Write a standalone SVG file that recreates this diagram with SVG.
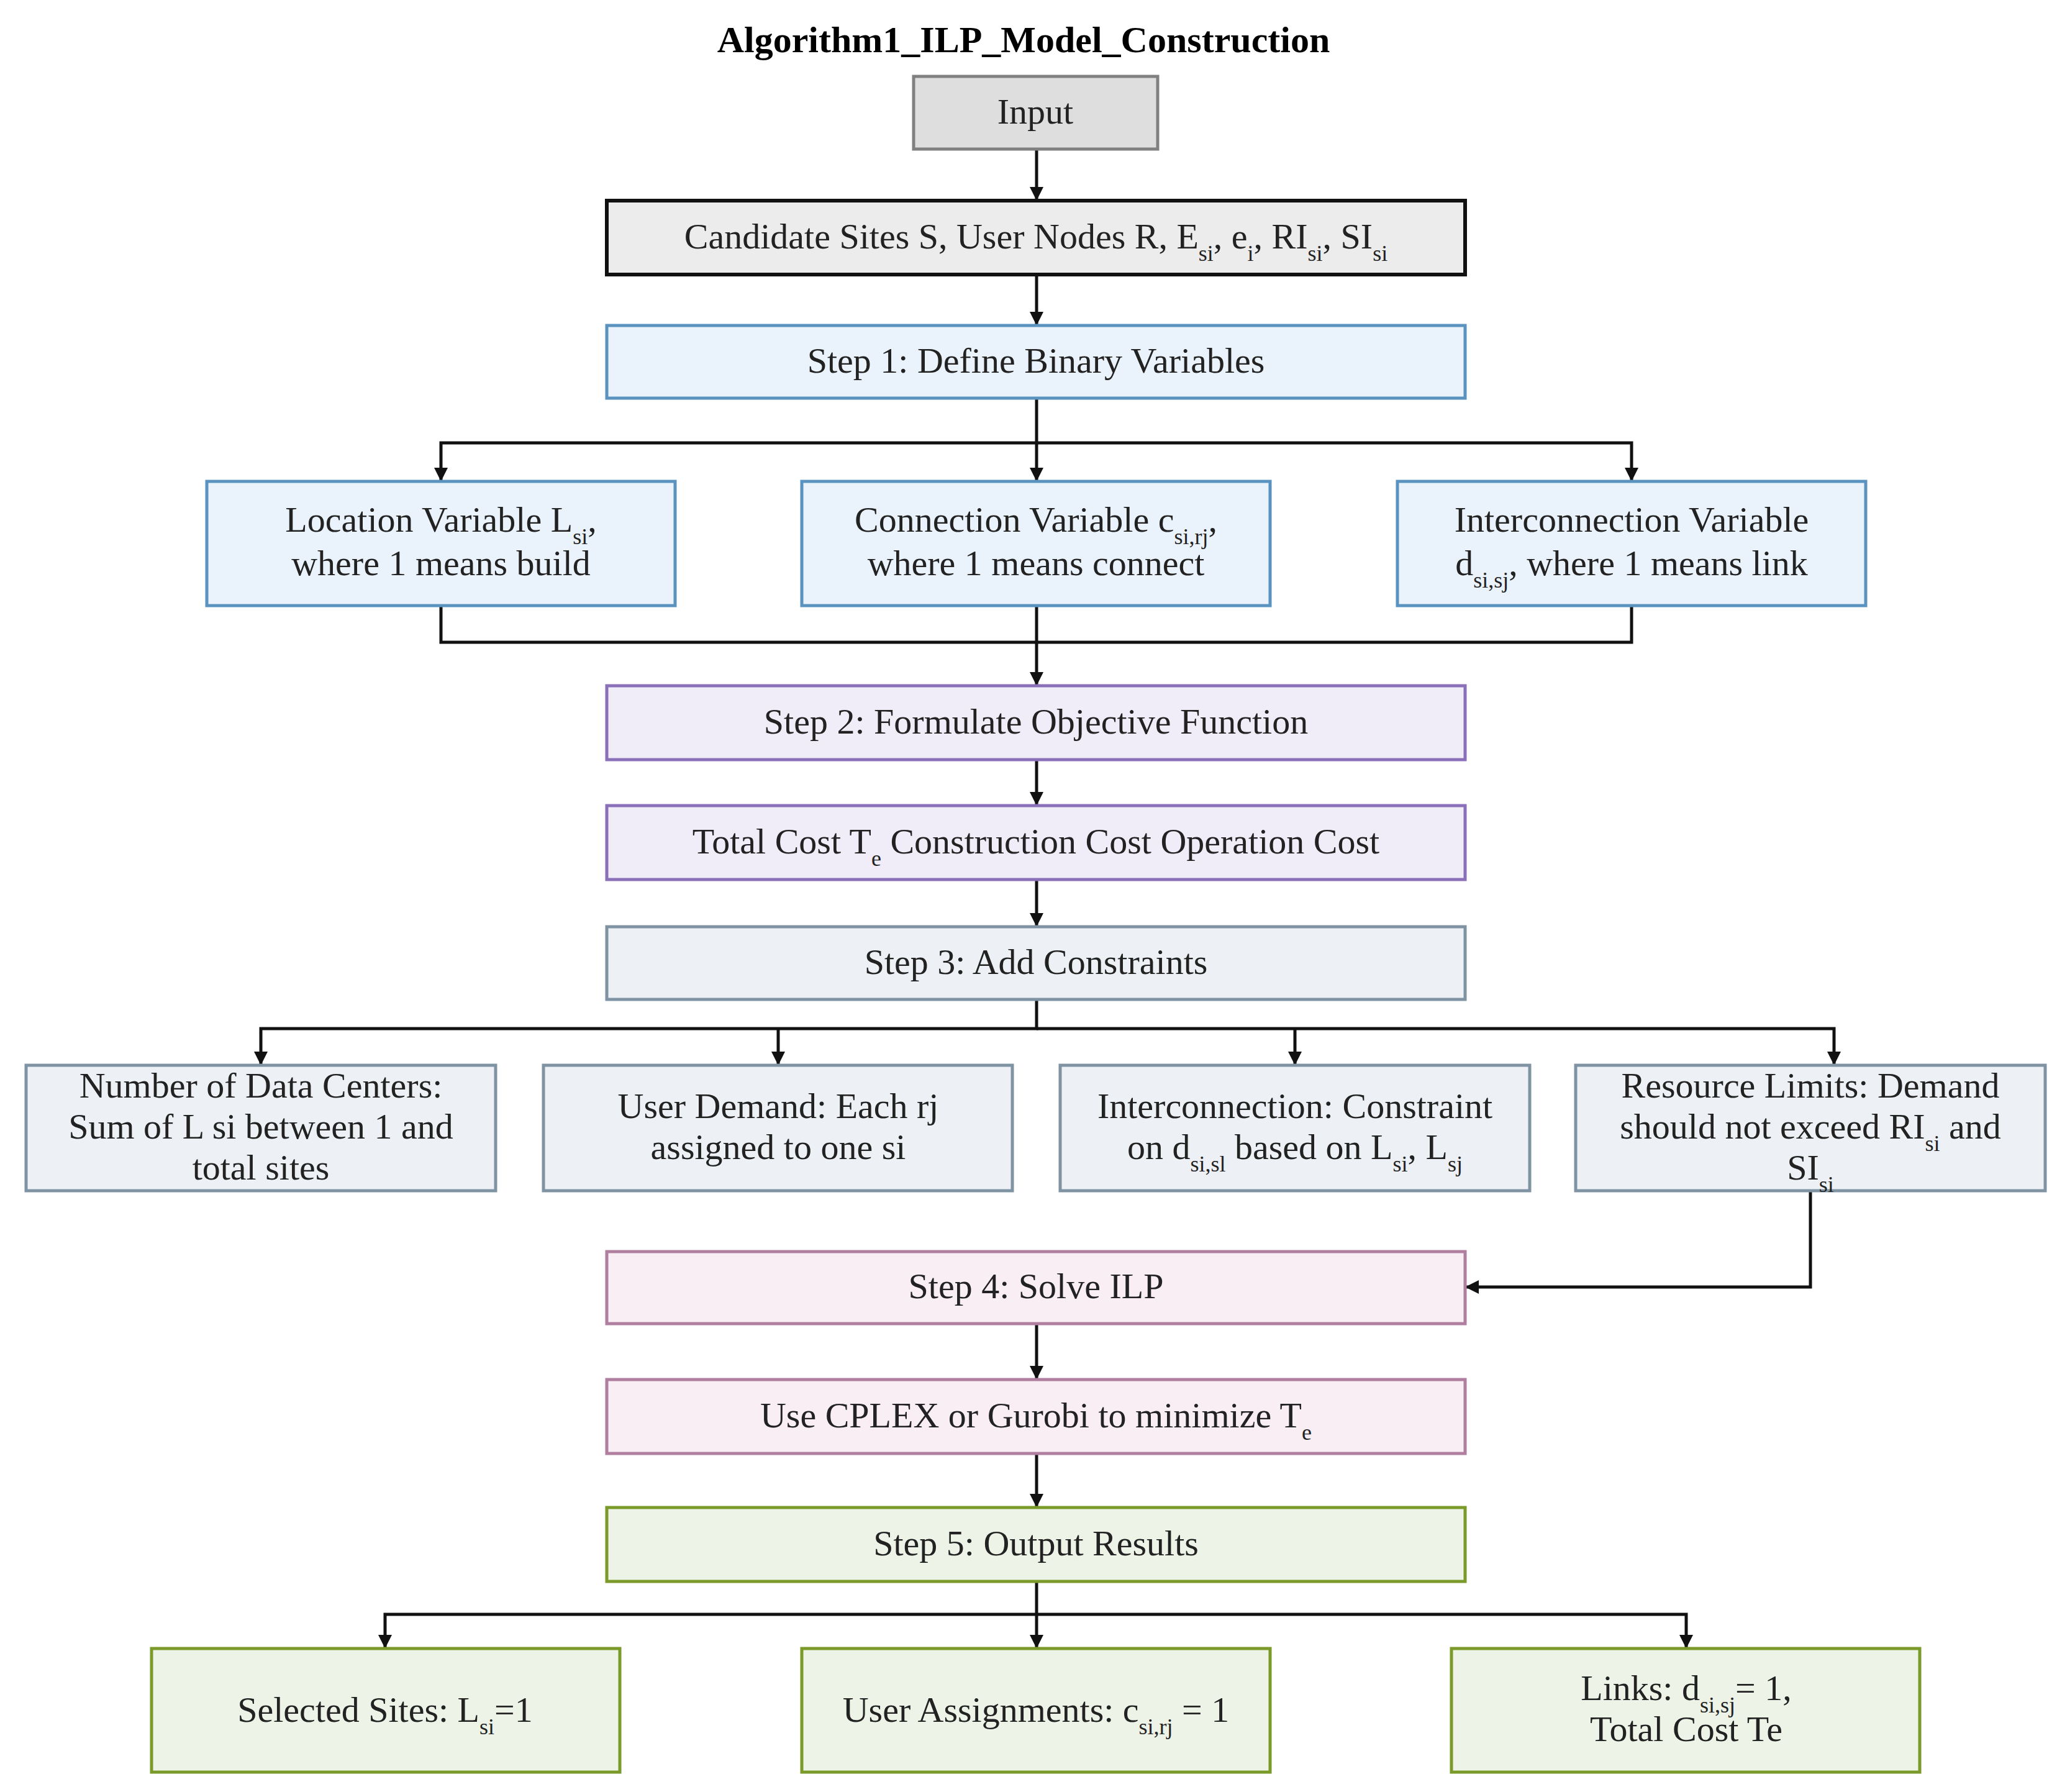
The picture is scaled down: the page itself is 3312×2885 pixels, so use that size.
<svg xmlns="http://www.w3.org/2000/svg" width="3312" height="2885" viewBox="0 0 3312 2885">
<style>
text{font-family:"Liberation Serif","Times New Roman",serif;font-size:58px;fill:#222;text-anchor:middle}
.t{font-weight:bold;font-size:60px;fill:#000}
.s{font-size:36px;baseline-shift:sub}
rect{stroke-width:5}
.gray{fill:#dedede;stroke:#808080}
.cand{fill:#ececec;stroke:#111;stroke-width:6}
.blue{fill:#eaf2fb;stroke:#5a93bf}
.purp{fill:#f0ecf8;stroke:#8a70b8}
.slate{fill:#edf1f5;stroke:#7f93a3}
.pink{fill:#f8eef4;stroke:#b07fa0}
.green{fill:#eef3e8;stroke:#7a9a2a}
.c{fill:none;stroke:#111;stroke-width:5}
</style>
<defs><marker id="a" viewBox="0 0 10 10" refX="10" refY="5" markerWidth="22" markerHeight="24" orient="auto" markerUnits="userSpaceOnUse"><path d="M0,0 L10,5 L0,10 z" fill="#111"/></marker></defs>
<text class="t" x="1648" y="84">Algorithm1_ILP_Model_Construction</text>
<g id="connectors">
<path class="c" d="M1669,240 V323" marker-end="url(#a)"/>
<path class="c" d="M1669,442 V524" marker-end="url(#a)"/>
<path class="c" d="M1669,641 V775" marker-end="url(#a)"/>
<path class="c" d="M1669,713 H710 V775" marker-end="url(#a)"/>
<path class="c" d="M1669,713 H2627 V775" marker-end="url(#a)"/>
<path class="c" d="M710,975 V1034 H2627 V975"/>
<path class="c" d="M1669,975 V1104" marker-end="url(#a)"/>
<path class="c" d="M1669,1223 V1297" marker-end="url(#a)"/>
<path class="c" d="M1669,1416 V1492" marker-end="url(#a)"/>
<path class="c" d="M1669,1609 V1656 H420 V1715" marker-end="url(#a)"/>
<path class="c" d="M1669,1656 H2953 V1715" marker-end="url(#a)"/>
<path class="c" d="M1253,1656 V1715" marker-end="url(#a)"/>
<path class="c" d="M2085,1656 V1715" marker-end="url(#a)"/>
<path class="c" d="M2915,1917 V2072 H2359" marker-end="url(#a)"/>
<path class="c" d="M1669,2131 V2221" marker-end="url(#a)"/>
<path class="c" d="M1669,2340 V2427" marker-end="url(#a)"/>
<path class="c" d="M1669,2546 V2654" marker-end="url(#a)"/>
<path class="c" d="M1669,2599 H620 V2654" marker-end="url(#a)"/>
<path class="c" d="M1669,2599 H2715 V2654" marker-end="url(#a)"/>
</g>
<g id="input"><rect class="gray" x="1471" y="123" width="393" height="117"/><text x="1667" y="199">Input</text></g>
<g id="candidate"><rect class="cand" x="977" y="323" width="1382" height="119"/><text x="1668" y="400">Candidate Sites S, User Nodes R, E<tspan class="s">si</tspan>, e<tspan class="s">i</tspan>, RI<tspan class="s">si</tspan>, SI<tspan class="s">si</tspan></text></g>
<g id="step1"><rect class="blue" x="977" y="524" width="1382" height="117"/><text x="1668" y="600">Step 1: Define Binary Variables</text></g>
<g id="loc"><rect class="blue" x="333" y="775" width="754" height="200"/><text x="710" y="856">Location Variable L<tspan class="s">si</tspan>,</text><text x="710" y="926">where 1 means build</text></g>
<g id="conn"><rect class="blue" x="1291" y="775" width="754" height="200"/><text x="1668" y="856">Connection Variable c<tspan class="s">si,rj</tspan>,</text><text x="1668" y="926">where 1 means connect</text></g>
<g id="inter"><rect class="blue" x="2250" y="775" width="754" height="200"/><text x="2627" y="856">Interconnection Variable</text><text x="2627" y="926">d<tspan class="s">si,sj</tspan>, where 1 means link</text></g>
<g id="step2"><rect class="purp" x="977" y="1104" width="1382" height="119"/><text x="1668" y="1181">Step 2: Formulate Objective Function</text></g>
<g id="total"><rect class="purp" x="977" y="1297" width="1382" height="119"/><text x="1668" y="1374">Total Cost T<tspan class="s">e</tspan> Construction Cost Operation Cost</text></g>
<g id="step3"><rect class="slate" x="977" y="1492" width="1382" height="117"/><text x="1668" y="1568">Step 3: Add Constraints</text></g>
<g id="num"><rect class="slate" x="42" y="1715" width="756" height="202"/><text x="420" y="1767">Number of Data Centers:</text><text x="420" y="1833">Sum of L si between 1 and</text><text x="420" y="1899">total sites</text></g>
<g id="demand"><rect class="slate" x="875" y="1715" width="755" height="202"/><text x="1253" y="1800">User Demand: Each rj</text><text x="1253" y="1866">assigned to one si</text></g>
<g id="interc"><rect class="slate" x="1707" y="1715" width="756" height="202"/><text x="2085" y="1800">Interconnection: Constraint</text><text x="2085" y="1866">on d<tspan class="s">si,sl</tspan> based on L<tspan class="s">si</tspan>, L<tspan class="s">sj</tspan></text></g>
<g id="res"><rect class="slate" x="2537" y="1715" width="756" height="202"/><text x="2915" y="1767">Resource Limits: Demand</text><text x="2915" y="1833">should not exceed RI<tspan class="s">si</tspan> and</text><text x="2915" y="1899">SI<tspan class="s">si</tspan></text></g>
<g id="step4"><rect class="pink" x="977" y="2015" width="1382" height="116"/><text x="1668" y="2090">Step 4: Solve ILP</text></g>
<g id="cplex"><rect class="pink" x="977" y="2221" width="1382" height="119"/><text x="1668" y="2298">Use CPLEX or Gurobi to minimize T<tspan class="s">e</tspan></text></g>
<g id="step5"><rect class="green" x="977" y="2427" width="1382" height="119"/><text x="1668" y="2504">Step 5: Output Results</text></g>
<g id="sel"><rect class="green" x="244" y="2654" width="754" height="199"/><text x="620" y="2772">Selected Sites: L<tspan class="s">si</tspan>=1</text></g>
<g id="ua"><rect class="green" x="1291" y="2654" width="754" height="199"/><text x="1668" y="2772">User Assignments: c<tspan class="s">si,rj</tspan> = 1</text></g>
<g id="links"><rect class="green" x="2337" y="2654" width="754" height="199"/><text x="2715" y="2737">Links: d<tspan class="s">si,sj</tspan>= 1,</text><text x="2715" y="2803">Total Cost Te</text></g>
</svg>
